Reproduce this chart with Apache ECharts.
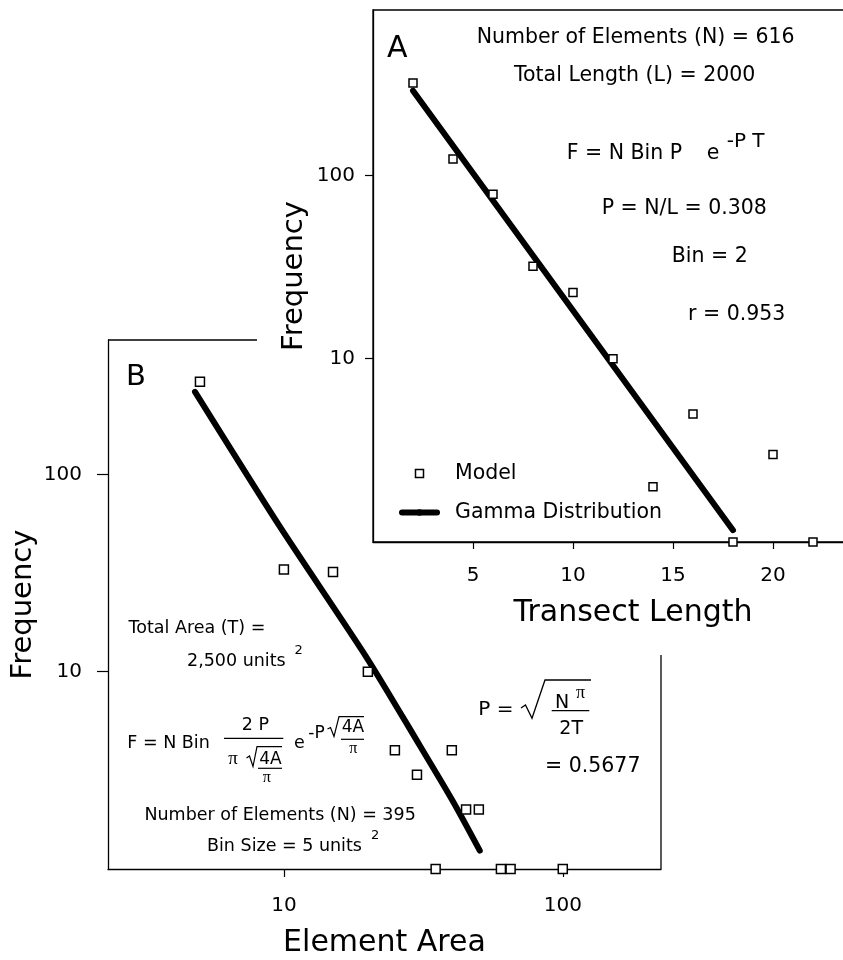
<!DOCTYPE html>
<html><head><meta charset="utf-8">
<script src="https://cdn.jsdelivr.net/npm/echarts@6/dist/echarts.min.js"></script>
<style>html,body{margin:0;padding:0;background:#fff}#c{width:843px;height:960px}</style>
</head><body><div id="c"></div>
<script>
// ---- Panel A data ----
const transectLength = [2, 4, 6, 8, 10, 12, 14, 16, 18, 20, 22];
const modelA = [320, 123, 79, 32, 23, 10, 2, 5, 1, 3, 1];
const gammaAx = [2, 18];
const gammaAy = [290, 1.16];
const transectTicks = [5, 10, 15, 20];
const freqTicksA = [10, 100];

// ---- Panel B data ----
const elementArea = [5, 10, 15, 20, 25, 30, 35, 40, 45, 50, 60, 65, 100];
const modelB = [295, 33, 32, 10, 4, 3, 1, 4, 2, 2, 1, 1, 1];
const gammaBx = [4.8, 9.7, 19.8, 29.9, 40.4, 50.4];
const gammaBy = [262, 54, 11.8, 4.5, 2.2, 1.24];
const areaTicks = [10, 100];
const freqTicksB = [10, 100];

const FF = 'DejaVu Sans';
const SERIF = 'Liberation Serif';
const zip = (a, b) => a.map((v, i) => [v, b[i]]);

function T(text, x, y, size, o) {
  o = o || {};
  return { type: 'text', x: x, y: y, z: 20,
    style: { text: text, fontSize: size, fontFamily: o.ff || FF, fill: '#000',
      align: o.align || 'left', verticalAlign: 'middle' } };
}
function L(x1, y1, x2, y2, w) {
  return { type: 'line', z: 20, shape: { x1: x1, y1: y1, x2: x2, y2: y2 },
    style: { stroke: '#000', lineWidth: w || 1.2 } };
}
function PL(points, w) {
  return { type: 'polyline', z: 20, shape: { points: points },
    style: { stroke: '#000', fill: null, lineWidth: w || 1.2 } };
}

const axisLineStyle = { show: true, lineStyle: { color: '#000', width: 1.3 } };
const labelStyle = { color: '#000', fontSize: 20, fontFamily: FF };
const nameStyle = { color: '#000', fontSize: 29, fontFamily: FF };

const chart = echarts.init(document.getElementById('c'), null, { renderer: 'canvas' });
chart.setOption({
  animation: false,
  backgroundColor: '#fff',
  grid: [
    { left: 373, top: 10, width: 520, height: 532, show: true, borderColor: '#000', borderWidth: 1.3,
      backgroundColor: 'transparent', containLabel: false, outerBoundsMode: 'none' },
    { left: 108, top: 340, width: 553, height: 529, containLabel: false, outerBoundsMode: 'none' }
  ],
  xAxis: [
    { type: 'value', gridIndex: 0, min: 0, max: 26,
      axisLine: axisLineStyle,
      axisTick: { show: true, customValues: transectTicks, length: 7, lineStyle: { color: '#000', width: 1.2 } },
      axisLabel: { customValues: transectTicks, margin: 24, ...labelStyle },
      splitLine: { show: false },
      name: 'Transect Length', nameLocation: 'middle', nameGap: 56, nameTextStyle: { ...nameStyle, fontSize: 30 } },
    { type: 'log', logBase: 10, gridIndex: 1, min: 2.34, max: 225,
      axisLine: axisLineStyle,
      axisTick: { show: true, customValues: areaTicks, length: 8, lineStyle: { color: '#000', width: 1.2 } },
      axisLabel: { customValues: areaTicks, margin: 27, ...labelStyle },
      splitLine: { show: false },
      name: 'Element Area', nameLocation: 'middle', nameGap: 59, nameTextStyle: { ...nameStyle, fontSize: 30 } }
  ],
  yAxis: [
    { type: 'log', logBase: 10, gridIndex: 0, min: 1, max: 800,
      axisLine: axisLineStyle,
      axisTick: { show: true, customValues: freqTicksA, length: 8, lineStyle: { color: '#000', width: 1.2 } },
      axisLabel: { customValues: freqTicksA, margin: 18, ...labelStyle },
      splitLine: { show: false },
      name: 'Frequency', nameLocation: 'middle', nameGap: 64, nameMoveOverlap: false, nameTextStyle: nameStyle },
    { type: 'log', logBase: 10, gridIndex: 1, min: 1, max: 480,
      axisLine: axisLineStyle,
      axisTick: { show: true, customValues: freqTicksB, length: 11, lineStyle: { color: '#000', width: 1.2 } },
      axisLabel: { customValues: freqTicksB, margin: 26, ...labelStyle },
      splitLine: { show: false },
      name: 'Frequency', nameLocation: 'middle', nameGap: 70, nameMoveOverlap: false, nameTextStyle: nameStyle }
  ],
  legend: {
    data: [
      { name: 'Model', icon: 'path://M0,0L10,0L10,10L0,10Z' },
      { name: 'Gamma Distribution' }
    ],
    orient: 'vertical', left: 394, top: 458,
    itemWidth: 35, itemHeight: 8, itemGap: 18, symbolKeepAspect: true,
    textStyle: { color: '#000', fontSize: 20.5, fontFamily: FF, padding: [0, 0, 0, 13] },
    itemStyle: { borderWidth: 1.5 },
    lineStyle: { width: 6, cap: 'round' }
  },
  series: [
    { name: 'Gamma Distribution', type: 'line', xAxisIndex: 0, yAxisIndex: 0,
      data: zip(gammaAx, gammaAy), symbol: 'none', z: 3,
      lineStyle: { color: '#000', width: 6, cap: 'round' }, itemStyle: { color: '#000' } },
    { name: 'Model', type: 'scatter', xAxisIndex: 0, yAxisIndex: 0,
      data: zip(transectLength, modelA), symbol: 'rect', symbolSize: 8, z: 4, clip: false,
      itemStyle: { color: '#fff', borderColor: '#000', borderWidth: 1.5, opacity: 1 } },
    { name: 'Gamma B', type: 'line', xAxisIndex: 1, yAxisIndex: 1,
      data: zip(gammaBx, gammaBy), symbol: 'none', z: 3, smooth: 0.25,
      lineStyle: { color: '#000', width: 6, cap: 'round', join: 'round' } },
    { name: 'Model B', type: 'scatter', xAxisIndex: 1, yAxisIndex: 1,
      data: zip(elementArea, modelB), symbol: 'rect', symbolSize: 9, z: 4, clip: false,
      itemStyle: { color: '#fff', borderColor: '#000', borderWidth: 1.5, opacity: 1 } }
  ],
  graphic: [
    // partial frame of panel B
    L(108, 340, 257, 340, 1.3),
    L(661, 655, 661, 869, 1.3),
    // panel A annotations
    T('A', 387, 49, 30),
    T('Number of Elements (N) = 616', 476.7, 37.5, 20.5),
    T('Total Length (L) = 2000', 514, 76, 20.5),
    T('F = N Bin P', 566.7, 154, 20.5),
    T('e', 706.7, 154, 20.5),
    T('-P T', 726.7, 141.7, 20),
    T('P = N/L = 0.308', 601.7, 208.3, 20.5),
    T('Bin = 2', 671.7, 256.7, 20.5),
    T('r = 0.953', 688, 315, 20.5),
    // panel B annotations
    T('B', 126, 377, 29),
    T('Total Area (T) =', 128.5, 628.3, 17.5),
    T('2,500 units', 187, 661, 17.5),
    T('2', 294.5, 651, 13),
    T('F = N Bin', 127.3, 743.3, 17.5),
    T('2 P', 241.7, 725, 17.5),
    L(224, 738.3, 283.3, 738.3, 1.2),
    T('π', 228.3, 759.3, 19, { ff: SERIF }),
    PL([[246.5, 758], [249.5, 756], [253, 766.5], [257, 746.7], [282, 746.7]], 1.2),
    T('4A', 259.3, 759.3, 17),
    L(258, 768.3, 282, 768.3, 1.2),
    T('π', 266.7, 777.3, 16, { ff: SERIF, align: 'center' }),
    T('e', 294, 743.3, 17.5),
    T('-P', 308.3, 734, 17),
    PL([[327.5, 729], [330.5, 727.5], [334, 736.5], [339, 716.7], [364, 716.7]], 1.2),
    T('4A', 341.7, 728, 17),
    L(341, 739.3, 364, 739.3, 1.2),
    T('π', 353.3, 748.3, 16, { ff: SERIF, align: 'center' }),
    T('Number of Elements (N) = 395', 144.4, 815, 17.5),
    T('Bin Size = 5 units', 207, 846, 17.5),
    T('2', 371, 836, 13),
    T('P =', 478.3, 709.3, 20),
    PL([[521, 708], [525.5, 705], [532, 718.3], [545, 680], [591, 680]], 1.3),
    T('N', 555, 703.3, 19),
    T('π', 576, 693.3, 18, { ff: SERIF }),
    L(551.7, 710.7, 589.3, 710.7, 1.2),
    T('2T', 559.3, 729, 19),
    T('= 0.5677', 545, 766.7, 20.5)
  ]
});
</script>
</body></html>
